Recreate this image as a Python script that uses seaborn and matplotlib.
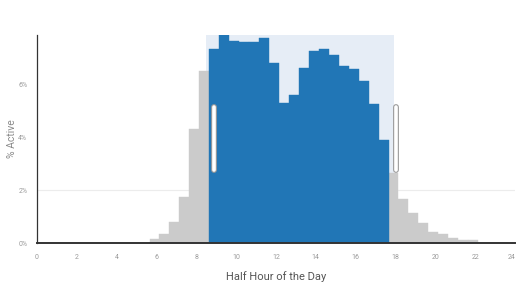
import numpy as np
import pandas as pd
import matplotlib
matplotlib.use("Agg")
import matplotlib.pyplot as plt
import seaborn as sns

# half-hour bins (start of bin, hours) and share of users active
hours = np.arange(6.0, 22.5, 0.5)
pct_active = [0.15, 0.34, 0.8, 1.74, 4.3, 6.5,
              7.33, 7.86, 7.63, 7.58, 7.6, 7.76, 6.79, 5.3, 5.6,
              6.6, 7.26, 7.33, 7.1, 6.67, 6.58, 6.12, 5.25, 3.9,
              2.64, 1.66, 1.13, 0.75, 0.42, 0.34, 0.2, 0.1, 0.13]
x_ticks = list(range(0, 25, 2))
y_ticks = [0, 2, 4, 6]
sel_from, sel_to = 9.0, 17.5      # bins inside the brush
brush = (8.5, 17.9)               # brush extent in hours

GRAY = "#cbcbcb"
BLUE = "#2176b6"
BRUSH = "#e6edf6"
SHIFT = -0.35   # bars sit a bit left of the hour ticks in the original

df = pd.DataFrame({"hour": hours, "pct": pct_active})
df["sel"] = (df["hour"] >= sel_from) & (df["hour"] <= sel_to)
edges = [float(e) for e in np.arange(0, 49) * 0.5 + SHIFT]

sns.set_style("white")
plt.rcParams["font.family"] = ["Liberation Sans Narrow", "Roboto", "DejaVu Sans"]

fig = plt.figure(figsize=(5.16, 2.87), dpi=100)
ax = fig.add_axes([37 / 516, 1 - 243 / 287, 478 / 516, 208 / 287])

ymax = max(pct_active)
ax.axvspan(brush[0], brush[1], color=BRUSH, lw=0, zorder=0)
ax.axhline(2, color="#ececec", lw=0.8, zorder=0.5)

for part, col in ((df[~df["sel"]], GRAY), (df[df["sel"]], BLUE)):
    sns.histplot(data=part, x="hour", weights="pct", bins=edges,
                 color=col, alpha=1, edgecolor=col, linewidth=0.3,
                 ax=ax, zorder=2)

# brush handles
for hx in (brush[0] + 0.4, brush[1] + 0.15):
    ax.plot([hx, hx], [2.75, 5.15], color="#9a9a9a", lw=4.2,
            solid_capstyle="round", zorder=5)
    ax.plot([hx, hx], [2.75, 5.15], color="white", lw=2.6,
            solid_capstyle="round", zorder=6)

ax.set_xlim(0, 24)
ax.set_ylim(0, ymax)
ax.set_xticks(x_ticks)
ax.set_xticklabels([str(t) for t in x_ticks])
ax.get_xticklabels()[-1].set_horizontalalignment("right")
ax.set_yticks(y_ticks)
ax.set_yticklabels([f"{t}%" for t in y_ticks])
ax.set_yticks([ymax], minor=True)
ax.tick_params(axis="both", which="both", direction="out", color="#333333",
               labelsize=5, labelcolor="#9a9a9a", width=0.8)
ax.tick_params(axis="x", length=4, pad=4)
ax.tick_params(axis="y", length=3, pad=4)
ax.tick_params(axis="y", which="minor", length=3)

for s in ("top", "right"):
    ax.spines[s].set_visible(False)
ax.spines["left"].set_color("#333333")
ax.spines["left"].set_linewidth(0.9)
ax.spines["bottom"].set_color("#333333")
ax.spines["bottom"].set_linewidth(1.4)

ax.set_xlabel("Half Hour of the Day", fontsize=8, color="#555555", labelpad=7)
ax.set_ylabel("% Active", fontsize=7.5, color="#8a8a8a")
ax.yaxis.set_label_coords(-20 / 478, 0.5)

fig.savefig("out.png", dpi=100)
